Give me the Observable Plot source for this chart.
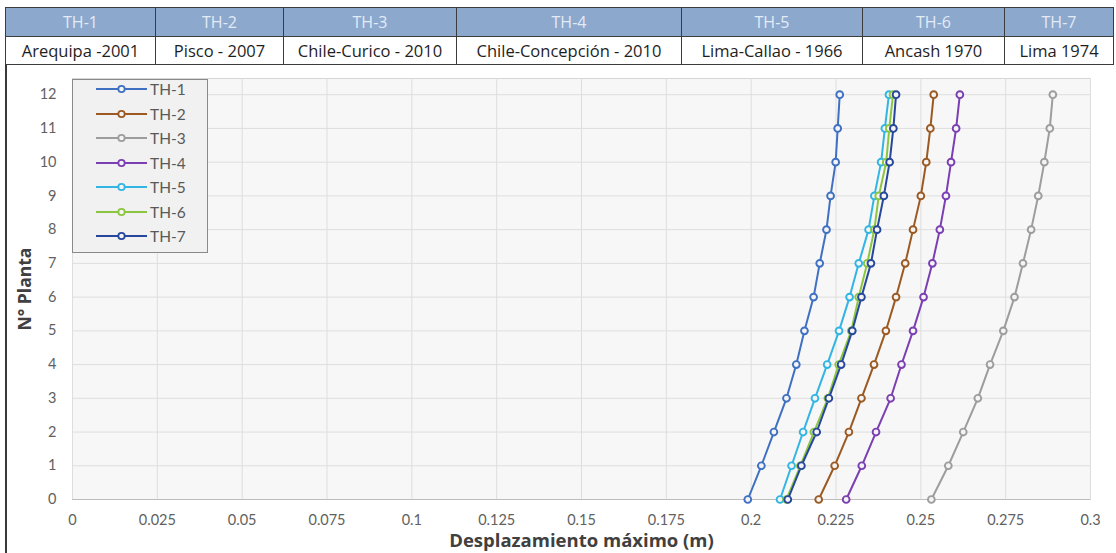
<!DOCTYPE html>
<html>
<head>
<meta charset="utf-8">
<script src="https://cdn.jsdelivr.net/npm/d3@7"></script>
<script src="https://cdn.jsdelivr.net/npm/@observablehq/plot@0.6"></script>
<style>
  html, body { margin: 0; padding: 0; background: #fff; }
  body { width: 1116px; height: 553px; position: relative; overflow: hidden; font-family: "Open Sans", Lato, sans-serif; }
  #hdr { position: absolute; left: 5px; top: 7px; border-collapse: collapse; table-layout: fixed; width: 1108px; }
  #hdr td { border: 1px solid #3c3c3c; text-align: center; padding: 0; white-space: nowrap; overflow: hidden; }
  #hdr tr.r1 td { background: #8ca8cd; color: #e3ebf6; height: 28px; font-size: 16px; }
  #hdr tr.r2 td { background: #fff; color: #1e1e1e; height: 27px; font-size: 16.5px; }
  #chart { position: absolute; left: 0; top: 64px; }
  #lborder { position: absolute; left: 5px; top: 64px; width: 2px; height: 489px; background: #3a3a3a; }
  #legend { position: absolute; left: 72px; top: 79px; width: 134px; height: 172px; border: 1px solid #8a8a8a; background: #f1f1f1; }
  .li { position: absolute; left: 0; height: 18px; width: 134px; }
  .li svg { position: absolute; left: 22px; top: 0; }
  .li span { position: absolute; left: 77px; top: 0; font-family: Lato, sans-serif; font-size: 15.5px; line-height: 18px; color: #595959; }
</style>
</head>
<body>
<table id="hdr"><tbody></tbody></table>
<div id="chart"></div>
<div id="lborder"></div>
<div id="legend"></div>
<script>
// ---- data ----
const series = ["TH-1", "TH-2", "TH-3", "TH-4", "TH-5", "TH-6", "TH-7"];
const events = ["Arequipa -2001", "Pisco - 2007", "Chile-Curico - 2010", "Chile-Concepción - 2010", "Lima-Callao - 1966", "Ancash 1970", "Lima 1974"];
const colors = ["#3f70c2", "#9c5a22", "#9d9d9d", "#7b3fb3", "#32b5e4", "#8cc640", "#26479c"];
const floors = [0, 1, 2, 3, 4, 5, 6, 7, 8, 9, 10, 11, 12];
const th1 = [0.1990, 0.2030, 0.2067, 0.2104, 0.2133, 0.2157, 0.2184, 0.2202, 0.2222, 0.2234, 0.2249, 0.2255, 0.2261];
const th2 = [0.2199, 0.2246, 0.2288, 0.2325, 0.2362, 0.2397, 0.2427, 0.2454, 0.2477, 0.2500, 0.2516, 0.2528, 0.2538];
const th3 = [0.2531, 0.2581, 0.2625, 0.2668, 0.2704, 0.2743, 0.2776, 0.2801, 0.2825, 0.2846, 0.2864, 0.2880, 0.2889];
const th4 = [0.2280, 0.2326, 0.2368, 0.2411, 0.2443, 0.2477, 0.2508, 0.2534, 0.2556, 0.2574, 0.2589, 0.2604, 0.2615];
const th5 = [0.2085, 0.2119, 0.2153, 0.2188, 0.2224, 0.2259, 0.2290, 0.2317, 0.2346, 0.2363, 0.2383, 0.2394, 0.2406];
const th6 = [0.2104, 0.2145, 0.2185, 0.2226, 0.2258, 0.2295, 0.2317, 0.2342, 0.2363, 0.2376, 0.2398, 0.2407, 0.2418];
const th7 = [0.2108, 0.2148, 0.2193, 0.2229, 0.2265, 0.2298, 0.2325, 0.2353, 0.2371, 0.2391, 0.2408, 0.2419, 0.2427];
const xTicks = [0, 0.025, 0.05, 0.075, 0.1, 0.125, 0.15, 0.175, 0.2, 0.225, 0.25, 0.275, 0.3];
const yTicks = [0, 1, 2, 3, 4, 5, 6, 7, 8, 9, 10, 11, 12];
const xLabel = "Desplazamiento máximo (m)";
const yLabel = "N° Planta";

const values = [th1, th2, th3, th4, th5, th6, th7];
const rows = series.flatMap((s, i) => values[i].map((v, j) => ({serie: s, planta: floors[j], desp: v})));

// ---- header table ----
const colW = [150, 128, 173, 225, 181, 142, 109];
const tb = document.querySelector("#hdr tbody");
const cg = document.createElement("colgroup");
colW.forEach(w => { const c = document.createElement("col"); c.style.width = w + "px"; cg.appendChild(c); });
document.querySelector("#hdr").insertBefore(cg, tb);
const r1 = document.createElement("tr"); r1.className = "r1";
series.forEach(s => { const td = document.createElement("td"); td.textContent = s; r1.appendChild(td); });
const r2 = document.createElement("tr"); r2.className = "r2";
events.forEach(s => { const td = document.createElement("td"); td.textContent = s; r2.appendChild(td); });
tb.appendChild(r1); tb.appendChild(r2);

// ---- chart ----
const fmt = d => String(+d.toFixed(3));
const chart = Plot.plot({
  width: 1116,
  height: 489,
  marginLeft: 72,
  marginRight: 26,
  marginTop: 14,
  marginBottom: 54,
  style: {fontFamily: "Lato, 'Open Sans', sans-serif", fontSize: "14.5px", color: "#595959", background: "transparent"},
  x: {domain: [0, 0.3]},
  y: {domain: [0, 12.48]},
  color: {domain: series, range: colors},
  marks: [
    Plot.frame({fill: "#f7f7f7", stroke: "#d6d6d6"}),
    Plot.gridX(xTicks, {stroke: "#dedede", strokeOpacity: 1}),
    Plot.gridY(yTicks, {stroke: "#dedede", strokeOpacity: 1}),
    Plot.ruleY([0], {stroke: "#bdbdbd"}),
    Plot.axisX({ticks: xTicks, tickFormat: fmt, tickSize: 0, tickPadding: 15, label: xLabel, labelArrow: "none", labelAnchor: "center", labelOffset: 47, fill: "#616161"}),
    Plot.axisY({ticks: yTicks, tickSize: 0, tickPadding: 16, label: yLabel, labelArrow: "none", labelAnchor: "center", labelOffset: 54, fill: "#616161"}),
    Plot.line(rows, {x: "desp", y: "planta", z: "serie", stroke: "serie", strokeWidth: 2}),
    Plot.dot(rows, {x: "desp", y: "planta", stroke: "serie", fill: "#f4f4f4", r: 3.4, strokeWidth: 1.9})
  ]
});
document.getElementById("chart").appendChild(chart);
d3.select(chart).selectAll("[aria-label='x-axis label'] text")
  .style("font-family", "'Open Sans', sans-serif").style("font-weight", "bold").style("font-size", "18.5px").attr("fill", "#404040");
d3.select(chart).selectAll("[aria-label='y-axis label'] text")
  .style("font-family", "'Open Sans', sans-serif").style("font-weight", "bold").style("font-size", "17.5px").attr("fill", "#404040");

// ---- legend ----
const lg = document.getElementById("legend");
series.forEach((s, i) => {
  const d = document.createElement("div");
  d.className = "li";
  d.style.top = (0 + i * 24.5) + "px";
  d.innerHTML = `<svg width="54" height="18"><line x1="1" x2="52" y1="9" y2="9" stroke="${colors[i]}" stroke-width="2"/><circle cx="26.5" cy="9" r="3.2" fill="#f4f4f4" stroke="${colors[i]}" stroke-width="1.8"/></svg><span>${s}</span>`;
  lg.appendChild(d);
});
</script>
</body>
</html>
